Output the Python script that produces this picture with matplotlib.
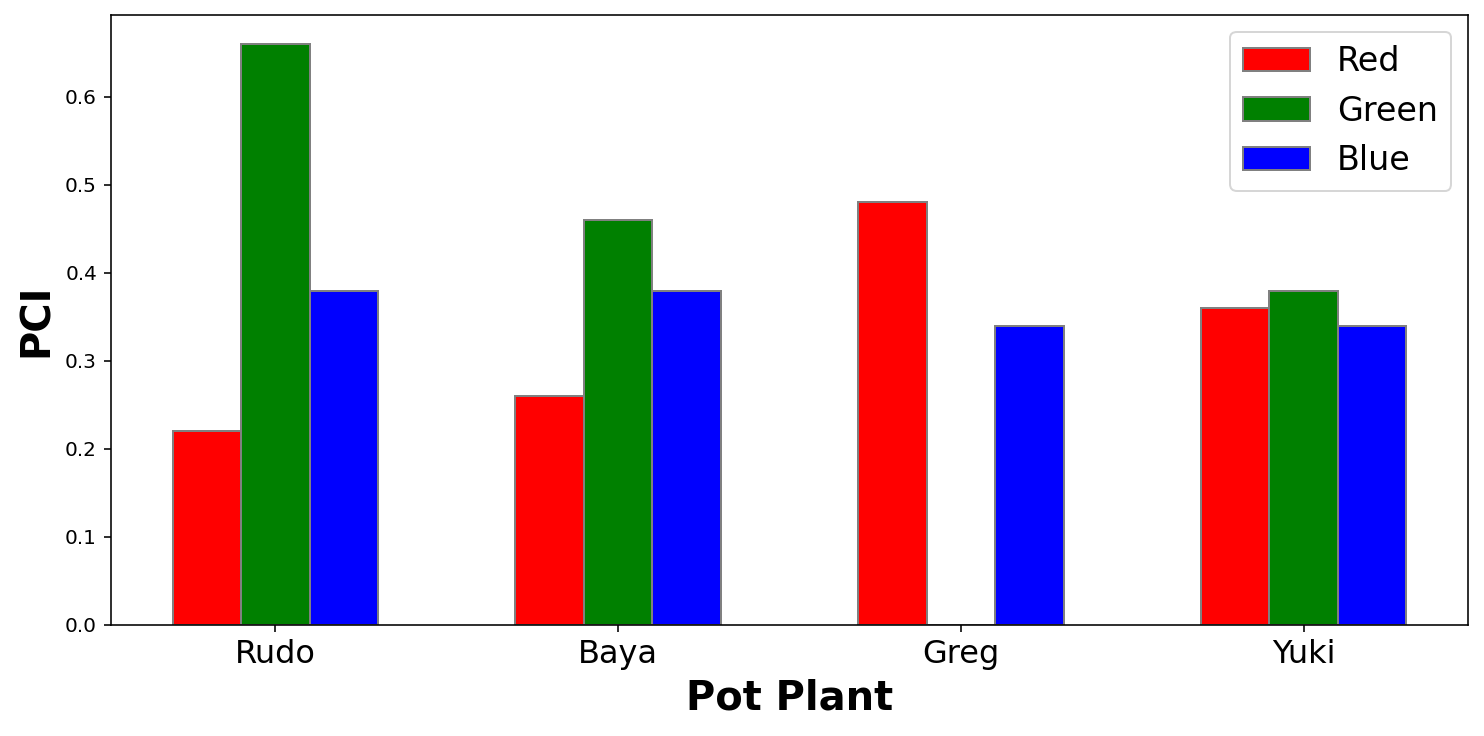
import matplotlib
matplotlib.use("Agg")
import matplotlib.pyplot as plt
import numpy as np

plants = ["Rudo", "Baya", "Greg", "Yuki"]
red = [0.22, 0.26, 0.48, 0.36]
green = [0.66, 0.46, 0.0, 0.38]
blue = [0.38, 0.38, 0.34, 0.34]

DPI = 144
fig = plt.figure(figsize=(1484/DPI, 736/DPI), dpi=DPI)
ax = fig.add_axes([111/1484, 1 - 625/736, (1468-111)/1484, (625-15)/736])
x = np.arange(len(plants))
w = 0.2
ax.bar(x - w, red, w, color="red", edgecolor="grey", label="Red")
ax.bar(x, green, w, color="green", edgecolor="grey", label="Green")
ax.bar(x + w, blue, w, color="blue", edgecolor="grey", label="Blue")
ax.set_xticks(x)
ax.set_xticklabels(plants, fontsize=16)
ax.tick_params(axis="y", labelsize=10)
ax.set_xlabel("Pot Plant", fontsize=20, fontweight="bold")
ax.set_ylabel("PCI", fontsize=20, fontweight="bold")
ax.legend(fontsize=16.7, loc="upper right")
fig.savefig("out.png", dpi=DPI)
